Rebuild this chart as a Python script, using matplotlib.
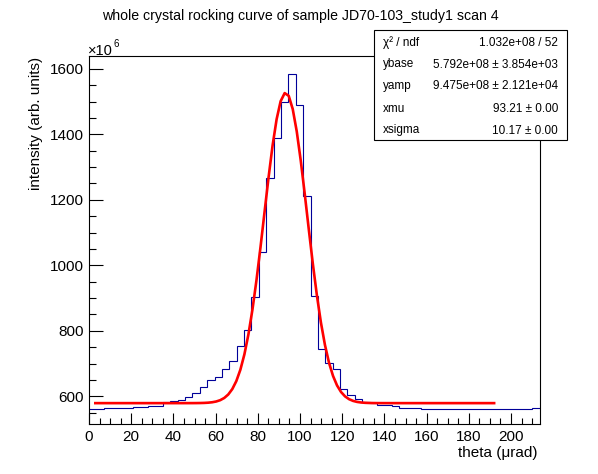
import numpy as np
import matplotlib
matplotlib.use('Agg')
import matplotlib.pyplot as plt
from matplotlib.patches import Rectangle
from matplotlib.ticker import MultipleLocator

plt.rcParams['font.family'] = ['Liberation Sans', 'DejaVu Sans']

W, H = 598, 474

# ---------------- data ----------------
title = "whole crystal rocking curve of sample JD70-103_study1 scan 4"
x_label = "theta (\u03bcrad)"
y_label = "intensity (arb. units)"
y_multiplier = "6"

bin_width = 3.5
x_start = 0.0
counts = [561.5, 561.5, 565, 565, 565, 565, 568.5, 568.5, 571.5, 571.5,
          582, 585.6, 588.7, 596.8, 611, 627.5, 649, 659, 682.4, 706.8,
          753.6, 802, 903, 1040, 1267, 1389, 1498, 1583, 1490, 1211,
          905, 743.5, 701, 682.4, 621.4, 605, 591, 583.5, 578.6,
          572.5, 572.5, 569, 565.5, 565.5, 565.5, 562.5, 562.5, 562.5, 562.5,
          560, 560, 560, 560, 560, 560, 560, 560, 560, 560, 560, 563.4]

# fit parameters (in units of 1e6)
ybase = 579.2
yamp = 947.5
xmu = 93.21
xsigma = 10.17
fit_lo, fit_hi = 3.0, 192.0

stat_names = ["\u03c7\u00b2 / ndf", "ybase", "yamp", "xmu", "xsigma"]
stat_values = ["1.032e+08 / 52", "5.792e+08 \u00b1 3.854e+03",
               "9.475e+08 \u00b1 2.121e+04", "93.21 \u00b1 0.00", "10.17 \u00b1 0.00"]

x_lim = (0.0, 213.5)
y_lim = (515.5, 1638.0)

# ---------------- figure ----------------
fig = plt.figure(figsize=(W / 100, H / 100), dpi=100)
fig.patch.set_facecolor('white')

def fx(px):
    return px / W

def fy(py):
    return 1 - py / H

ax_left, ax_right, ax_top, ax_bottom = 89, 539.5, 56.3, 424
ax = fig.add_axes([fx(ax_left), fy(ax_bottom), (ax_right - ax_left) / W, (ax_bottom - ax_top) / H])

edges = x_start + bin_width * np.arange(len(counts) + 1)
ax.stairs(counts, edges, color='#000099', linewidth=0.8, baseline=None)

xs = np.linspace(fit_lo, fit_hi, 100)
ys = ybase + yamp * np.exp(-0.5 * ((xs - xmu) / xsigma) ** 2)
ax.plot(xs, ys, color='#ff0000', linewidth=1.9)

ax.set_xlim(*x_lim)
ax.set_ylim(*y_lim)

ax.xaxis.set_major_locator(MultipleLocator(20))
ax.xaxis.set_minor_locator(MultipleLocator(5))
ax.yaxis.set_major_locator(MultipleLocator(200))
ax.yaxis.set_minor_locator(MultipleLocator(50))

ax.tick_params(axis='x', which='major', direction='in', length=8, width=0.8, labelsize=11, pad=4)
ax.tick_params(axis='x', which='minor', direction='in', length=4, width=0.8)
ax.tick_params(axis='y', which='major', direction='in', length=10, width=0.8, labelsize=11, pad=4)
ax.tick_params(axis='y', which='minor', direction='in', length=5, width=0.8)
for s in ax.spines.values():
    s.set_linewidth(0.8)

# titles
fig.text(fx(300), fy(16), title, ha='center', va='center', fontsize=10.2)
fig.text(fx(538), fy(453), x_label, ha='right', va='center', fontsize=11)
fig.text(fx(36), fy(57), y_label, ha='center', va='top', rotation=90, fontsize=11)

# x10^6 multiplier
mult = fig.text(fx(88), fy(55), "\u00d710", ha='left', va='baseline', fontsize=10.5)
fig.canvas.draw()
bb = mult.get_window_extent(renderer=fig.canvas.get_renderer())
fig.text((bb.x1 + 0.5) / W, fy(47), y_multiplier, ha='left', va='baseline', fontsize=7)

# stats box
bx0, by0, bx1, by1 = 374, 30, 567, 140
rect = Rectangle((fx(bx0), fy(by1)), (bx1 - bx0) / W, (by1 - by0) / H,
                 transform=fig.transFigure, facecolor='white', edgecolor='black',
                 linewidth=0.8, zorder=10)
fig.add_artist(rect)
row_h = (by1 - by0) / len(stat_names)
for i, (n, v) in enumerate(zip(stat_names, stat_values)):
    yc = by0 + row_h * (i + 0.5) + 1.5
    fig.text(fx(383), fy(yc), n, ha='left', va='center', fontsize=8.5, zorder=11)
    fig.text(fx(558), fy(yc), v, ha='right', va='center', fontsize=8.5, zorder=11)

fig.savefig('out.png', dpi=100)
